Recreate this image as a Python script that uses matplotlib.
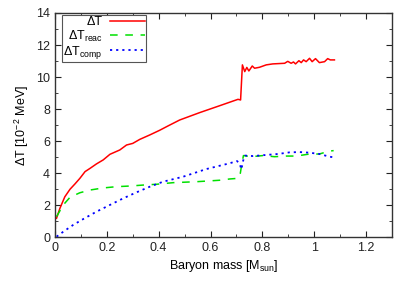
import matplotlib
matplotlib.use("Agg")
import matplotlib.pyplot as plt
from matplotlib.ticker import MultipleLocator

plt.rcParams["font.family"] = ["Liberation Sans", "DejaVu Sans"]
plt.rcParams["mathtext.fontset"] = "custom"
plt.rcParams["mathtext.rm"] = "Liberation Sans"

# total temperature change
mass_tot = [0.006, 0.019, 0.038, 0.058, 0.077, 0.096, 0.116, 0.135, 0.16, 0.186,
            0.212, 0.25, 0.276, 0.30, 0.327, 0.366, 0.404, 0.436, 0.481, 0.558,
            0.635, 0.706, 0.716, 0.723, 0.732, 0.74, 0.748, 0.761, 0.77, 0.789,
            0.815, 0.84, 0.886, 0.898, 0.911, 0.92, 0.928, 0.941, 0.95, 0.959,
            0.969, 0.982, 0.992, 1.005, 1.02, 1.04, 1.052, 1.062, 1.078]
dT_tot = [1.19, 1.81, 2.53, 3.0, 3.33, 3.68, 4.1, 4.3, 4.58, 4.83,
          5.18, 5.45, 5.76, 5.86, 6.11, 6.39, 6.68, 6.95, 7.32, 7.78,
          8.21, 8.61, 8.57, 10.76, 10.34, 10.6, 10.38, 10.69, 10.55, 10.61,
          10.76, 10.82, 10.86, 10.98, 10.86, 10.94, 10.82, 11.02, 10.9, 11.07,
          10.96, 11.17, 10.96, 11.15, 10.9, 10.96, 11.15, 11.07, 11.07]

# reaction part
mass_reac = [0.006, 0.032, 0.058, 0.096, 0.135, 0.186, 0.237, 0.289, 0.34, 0.392,
             0.456, 0.546, 0.635, 0.674, 0.706, 0.715, 0.719, 0.727, 0.757, 0.802,
             0.847, 0.892, 0.93, 0.975, 1.02, 1.059, 1.075]
dT_reac = [1.29, 2.02, 2.5, 2.78, 2.95, 3.08, 3.16, 3.2, 3.26, 3.31,
           3.41, 3.47, 3.56, 3.64, 3.68, 4.0, 4.41, 5.1, 5.03, 5.1,
           5.03, 5.07, 5.07, 5.18, 5.2, 5.38, 5.41]

# compression part
mass_comp = [0.006, 0.032, 0.07, 0.109, 0.16, 0.212, 0.263, 0.315, 0.366, 0.417,
             0.494, 0.584, 0.674, 0.702, 0.712, 0.719, 0.728, 0.733, 0.764, 0.815,
             0.86, 0.905, 0.943, 0.982, 1.02, 1.059, 1.072]
dT_comp = [0.04, 0.35, 0.77, 1.14, 1.6, 2.02, 2.43, 2.81, 3.16, 3.47,
           3.78, 4.26, 4.62, 4.76, 4.62, 4.24, 4.93, 5.1, 5.07, 5.14,
           5.2, 5.3, 5.32, 5.28, 5.2, 5.03, 5.0]

fig = plt.figure(figsize=(4.15, 2.91), dpi=100)
ax = fig.add_axes([0.1325, 0.1845, 0.812, 0.771])

ax.plot(mass_tot, dT_tot, color="#ff0000", lw=1.1, label="ΔT")
ax.plot(mass_reac, dT_reac, color="#00e000", lw=1.1, dashes=(5, 5), label=r"ΔT$_{\mathrm{reac}}$")
ax.plot(mass_comp, dT_comp, color="#0000ff", lw=1.3, dashes=(1.2, 2.2), label=r"ΔT$_{\mathrm{comp}}$")

ax.set_xlim(0, 1.3)
ax.set_ylim(0, 14)
ax.xaxis.set_major_locator(MultipleLocator(0.2))
ax.xaxis.set_minor_locator(MultipleLocator(0.1))
ax.yaxis.set_major_locator(MultipleLocator(2))
ax.yaxis.set_minor_locator(MultipleLocator(1))
ax.xaxis.set_major_formatter(plt.FuncFormatter(lambda v, p: f"{v:g}"))
ax.tick_params(which="both", direction="in", top=True, right=True, labelsize=9, colors="#222222")
ax.tick_params(which="major", length=4)
ax.tick_params(which="minor", length=2.5)
for s in ax.spines.values():
    s.set_color("#333333")
    s.set_linewidth(1.0)

ax.set_xlabel(r"Baryon mass [M$_{\mathrm{sun}}$]", fontsize=9, labelpad=3)
ax.set_ylabel(r"ΔT [10$^{-2}$ MeV]", fontsize=9, labelpad=4)

# gnuplot-like key: labels right-aligned, samples on the right
leg = ax.legend(loc="upper left", bbox_to_anchor=(0.021, 0.991), markerfirst=False,
                fancybox=False, fontsize=9, handlelength=2.8, handletextpad=0.6,
                borderpad=0.1, labelspacing=0.02, borderaxespad=0, framealpha=1)
leg.get_frame().set_edgecolor("#555555")
leg.get_frame().set_linewidth(0.8)
leg._legend_box._children[-1]._children[0].align = "right"

fig.savefig("out.png", dpi=100)
